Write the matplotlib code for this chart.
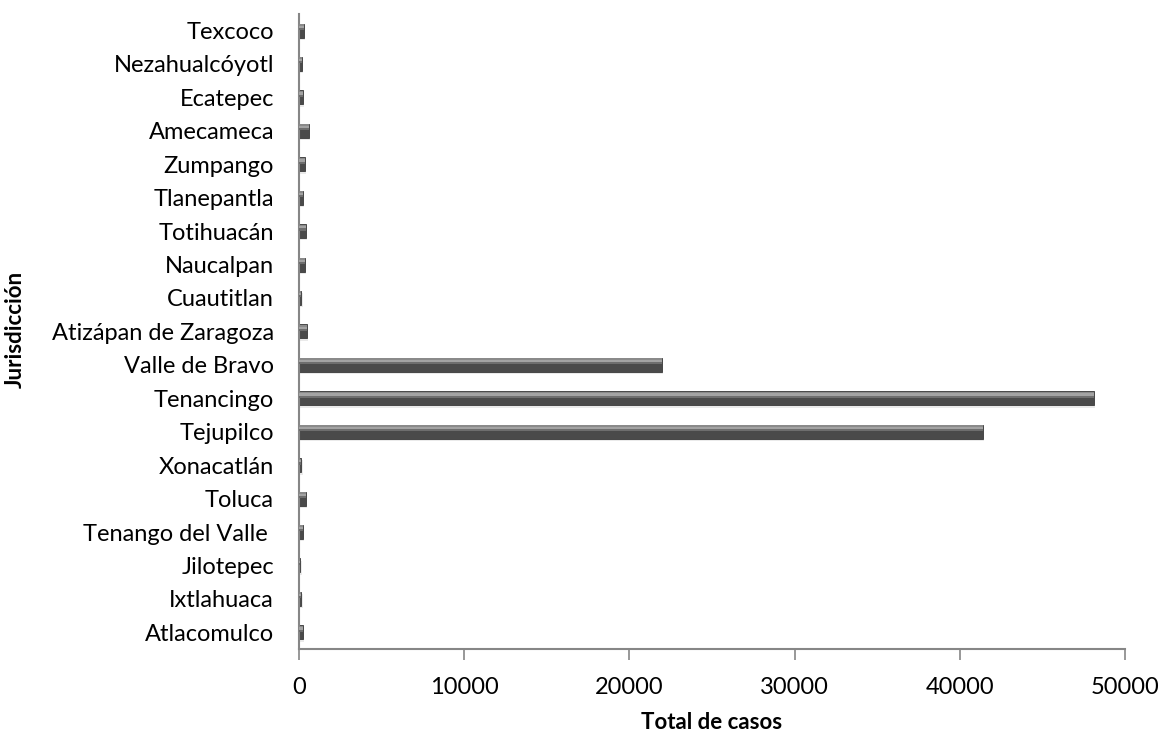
import matplotlib
matplotlib.use("Agg")
import matplotlib.pyplot as plt
import numpy as np

plt.rcParams['font.family'] = ['Lato', 'DejaVu Sans']

# jurisdicciones, de abajo hacia arriba
jurisdicciones = ["Atlacomulco", "Ixtlahuaca", "Jilotepec", "Tenango del Valle ", "Toluca",
                  "Xonacatlán", "Tejupilco", "Tenancingo", "Valle de Bravo",
                  "Atizápan de Zaragoza", "Cuautitlan", "Naucalpan", "Totihuacán",
                  "Tlanepantla", "Zumpango", "Amecameca", "Ecatepec", "Nezahualcóyotl", "Texcoco"]
casos = [230, 150, 80, 230, 420,
         150, 41400, 48120, 21970,
         470, 150, 360, 420,
         230, 360, 600, 230, 180, 300]

xticks = [0, 10000, 20000, 30000, 40000, 50000]

fig = plt.figure(figsize=(11.61, 7.36), dpi=100)
ax = fig.add_axes([0.2575, 0.1182, 0.7115, 0.863])

y = np.arange(len(jurisdicciones))
h = 0.42

# sombra
ax.barh(y - 0.07, casos, height=h, left=80, color='#dcdcdc', alpha=0.6, zorder=1)
# barra principal
ax.barh(y, casos, height=h, color='#4a4a4a', edgecolor='#3a3a3a', linewidth=0.6, zorder=2)
# degradado superior
ax.barh(y + h * 0.12, casos, height=h * 0.16, color='#6e6e6e', linewidth=0, zorder=3)
ax.barh(y + h * 0.27, casos, height=h * 0.16, color='#a3a3a3', linewidth=0, zorder=3)
ax.barh(y + h * 0.41, casos, height=h * 0.12, color='#8a8a8a', linewidth=0, zorder=3)

ax.set_xlim(0, 50000)
ax.set_ylim(-0.5, len(jurisdicciones) - 0.5)
ax.set_yticks(y)
ax.set_yticklabels(jurisdicciones, fontsize=17)
ax.set_xticks(xticks)
ax.set_xticklabels([str(v) for v in xticks], fontsize=17)

for s in ['top', 'right']:
    ax.spines[s].set_visible(False)
for s in ['left', 'bottom']:
    ax.spines[s].set_color('#868686')
    ax.spines[s].set_linewidth(1.5)

ax.tick_params(axis='y', length=0, pad=18)
ax.tick_params(axis='x', length=8, width=1.2, color='#868686', pad=12, direction='out')

ax.set_xlabel("Total de casos", fontsize=16, fontweight='bold', labelpad=10)
fig.text(0.013, 0.552, "Jurisdicción", rotation=90, fontsize=16, fontweight='bold',
         ha='center', va='center')

fig.savefig("out.png", dpi=100)
